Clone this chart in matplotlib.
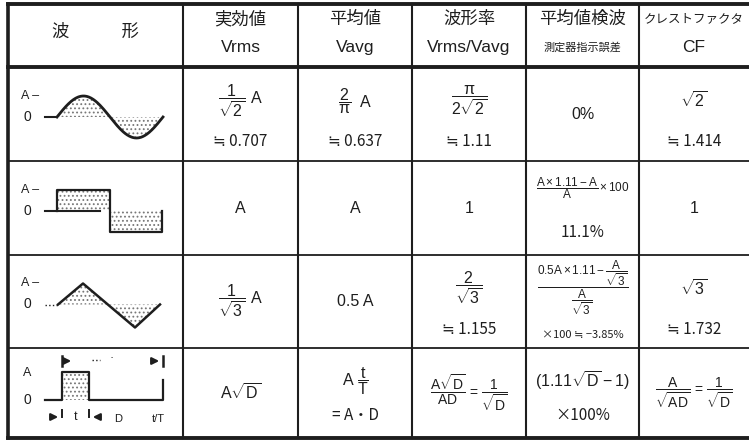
import numpy as np
import matplotlib.pyplot as plt

plt.rcParams['font.family'] = ['Liberation Sans', 'Noto Sans CJK JP']
plt.rcParams['mathtext.fontset'] = 'custom'
plt.rcParams['mathtext.rm'] = 'Liberation Sans'
plt.rcParams['mathtext.it'] = 'Liberation Sans:italic'
plt.rcParams['mathtext.default'] = 'regular'
plt.rcParams['hatch.linewidth'] = 0.8

# table content
headers_jp = ['波　　　形', '実効値', '平均値', '波形率', '平均値検波', 'クレストファクタ']
headers_en = ['', 'Vrms', 'Vavg', 'Vrms/Vavg', '測定器指示誤差', 'CF']
waveforms = ['sine', 'square', 'triangle', 'pulse']

vrms = [r'$\dfrac{1}{\sqrt{2}}$ A', 'A', r'$\dfrac{1}{\sqrt{3}}$ A', r'A$\sqrt{D}$']
vrms_approx = ['≒ 0.707', '', '', '']
vavg = [r'$\dfrac{2}{\pi}$  A', 'A', '0.5 A', r'A $\dfrac{t}{T}$']
vavg_approx = ['≒ 0.637', '', '', '= A・D']
form = [r'$\dfrac{\pi}{2\sqrt{2}}$', '1', r'$\dfrac{2}{\sqrt{3}}$',
        r'$\dfrac{A\sqrt{D}}{AD}$ = $\dfrac{1}{\sqrt{D}}$']
form_approx = ['≒ 1.11', '', '≒ 1.155', '']
err = ['0%', r'$\dfrac{A\times1.11-A}{A}\times100$',
       r'$\dfrac{0.5A\times1.11-\dfrac{A}{\sqrt{3}}}{\dfrac{A}{\sqrt{3}}}$',
       r'$(1.11\sqrt{D}-1)$']
err_approx = ['', '11.1%', '×100 ≒ −3.85%', '×100%']
cf = [r'$\sqrt{2}$', '1', r'$\sqrt{3}$', r'$\dfrac{A}{\sqrt{AD}}$ = $\dfrac{1}{\sqrt{D}}$']
cf_approx = ['≒ 1.414', '', '≒ 1.732', '']

col_edges = [8, 183, 298, 412, 526, 639, 749]
row_edges = [4, 67, 161, 255, 348, 438]
ink = '#1e1e1e'
approx_family = ['Noto Sans CJK JP', 'DejaVu Sans']

fig = plt.figure(figsize=(7.49, 4.43), dpi=100)
ax = fig.add_axes([0, 0, 1, 1])
ax.set_xlim(0, 749)
ax.set_ylim(443, 0)
ax.axis('off')

# grid
for x in col_edges[1:-1]:
    ax.plot([x, x], [row_edges[0], row_edges[-1]], color=ink, lw=1.5)
ax.plot([col_edges[0]] * 2, [row_edges[0], row_edges[-1]], color=ink, lw=2.6)
for i, y in enumerate(row_edges):
    lw = 2.8 if i in (0, 1, len(row_edges) - 1) else 1.3
    ax.plot([col_edges[0], 749], [y, y], color=ink, lw=lw)

# header
cx = [(a + b) / 2 for a, b in zip(col_edges[:-1], col_edges[1:])]
ax.text(cx[0], 32, headers_jp[0], ha='center', va='center', fontsize=12.5, color=ink)
for j in range(1, 6):
    size_jp = 9 if j == 5 else 12.5
    size_en = 8 if j == 4 else 12.5
    ax.text(cx[j], 19, headers_jp[j], ha='center', va='center', fontsize=size_jp, color=ink)
    ax.text(cx[j], 47, headers_en[j], ha='center', va='center', fontsize=size_en, color=ink)


def draw_wave(kind, top, bottom):
    mid = (top + bottom) / 2
    amp = 21
    zero = mid + 3
    if kind == 'sine':
        xs = np.linspace(57, 163, 200)
        ys = zero - amp * np.sin((xs - 57) / (163 - 57) * 2 * np.pi)
        ax.plot([45, 57], [zero, zero], color=ink, lw=1.5)
        ax.plot(xs, ys, color=ink, lw=2)
    elif kind == 'square':
        xs = np.array([57, 57, 110, 110, 162, 162])
        ys = np.array([zero, zero - amp, zero - amp, zero + amp, zero + amp, zero])
        ax.plot([45, 100], [zero, zero], color=ink, lw=1.5)
        ax.plot(xs, ys, color=ink, lw=1.6)
        xs = np.array([57, 110, 110, 162])
        ys = np.array([zero - amp, zero - amp, zero + amp, zero + amp])
    elif kind == 'triangle':
        xs = np.array([58, 83, 135, 160])
        ys = np.array([zero, zero - amp, zero + amp + 2, zero])
        ax.plot([45, 58], [zero, zero], color=ink, lw=1.0, ls=':')
        ax.plot(xs, ys, color=ink, lw=1.8)
    else:
        zero = mid + 7
        amp = 28
        xs = np.array([45, 62, 62, 89, 89, 160, 163, 163])
        ys = np.array([zero, zero, zero - amp, zero - amp, zero, zero, zero, zero - 20])
        ax.plot(xs, ys, color=ink, lw=1.6)
        xs = np.array([62, 89])
        ys = np.array([zero - amp, zero - amp])
        # period T and width t
        ty = top + 13
        ax.plot([62, 62], [ty - 5, ty + 5], color=ink, lw=1.8)
        ax.plot([163, 163], [ty - 5, ty + 5], color=ink, lw=1.8)
        ax.annotate('', xy=(74, ty), xytext=(63, ty),
                    arrowprops=dict(arrowstyle='-|>', color=ink, lw=1.6))
        ax.annotate('', xy=(162, ty), xytext=(150, ty),
                    arrowprops=dict(arrowstyle='-|>', color=ink, lw=1.6))
        ax.plot([92, 100], [ty - 1, ty - 1], color=ink, lw=1, ls=':')
        ax.text(112, ty - 3, '·', ha='center', va='center', fontsize=9, color=ink)
        by = zero + 17
        ax.annotate('', xy=(61, by), xytext=(48, by),
                    arrowprops=dict(arrowstyle='-|>', color=ink, lw=1.6))
        ax.annotate('', xy=(90, by), xytext=(103, by),
                    arrowprops=dict(arrowstyle='-|>', color=ink, lw=1.6))
        ax.plot([62, 62], [by - 7, by], color=ink, lw=1.4)
        ax.plot([89, 89], [by - 7, by], color=ink, lw=1.4)
        ax.text(76, by, 't', ha='center', va='center', fontsize=9, color=ink)
        ax.text(118, by + 2, 'D', ha='center', va='center', fontsize=8, color=ink)
        ax.text(158, by + 2, 't/T', ha='center', va='center', fontsize=8, color=ink)
        ax.text(27, zero - amp + 1, 'A', ha='center', va='center', fontsize=9, color=ink)
        ax.text(27, zero, '0', ha='center', va='center', fontsize=10, color=ink)
        ax.fill_between(xs, ys, zero, facecolor='none', edgecolor='#777', hatch='....', lw=0)
        return
    ax.fill_between(xs, ys, zero, facecolor='none', edgecolor='#777', hatch='....', lw=0)
    ax.text(30, zero - amp, 'A –', ha='center', va='center', fontsize=9, color=ink)
    ax.text(27, zero, '0', ha='center', va='center', fontsize=10, color=ink)


cols = [(vrms, vrms_approx), (vavg, vavg_approx), (form, form_approx),
        (err, err_approx), (cf, cf_approx)]
for i, kind in enumerate(waveforms):
    top, bottom = row_edges[i + 1], row_edges[i + 2]
    mid = (top + bottom) / 2
    draw_wave(kind, top, bottom)
    for j, (main, approx) in enumerate(cols, start=1):
        small = j == 4 and i in (1, 2)
        size = 8.5 if small else 11.5
        if i == 3 and j in (3, 5):
            size = 10
        if approx[i]:
            y_main = mid - 13
            y_app = mid + 28 if i != 3 else mid + 22
            if small:
                y_main = mid - 20 if i == 1 else mid - 14
                y_app = mid + 24 if i == 1 else mid + 34
            if i == 3:
                y_main = mid - 12
            ax.text(cx[j], y_main, main[i], ha='center', va='center', fontsize=size, color=ink)
            ax.text(cx[j], y_app, approx[i], ha='center', va='center', family=approx_family,
                    fontsize=8 if (j == 4 and i == 2) else 11, color=ink)
        else:
            ax.text(cx[j], mid, main[i], ha='center', va='center', fontsize=size, color=ink)

fig.savefig('out.png', dpi=100, facecolor='white')
